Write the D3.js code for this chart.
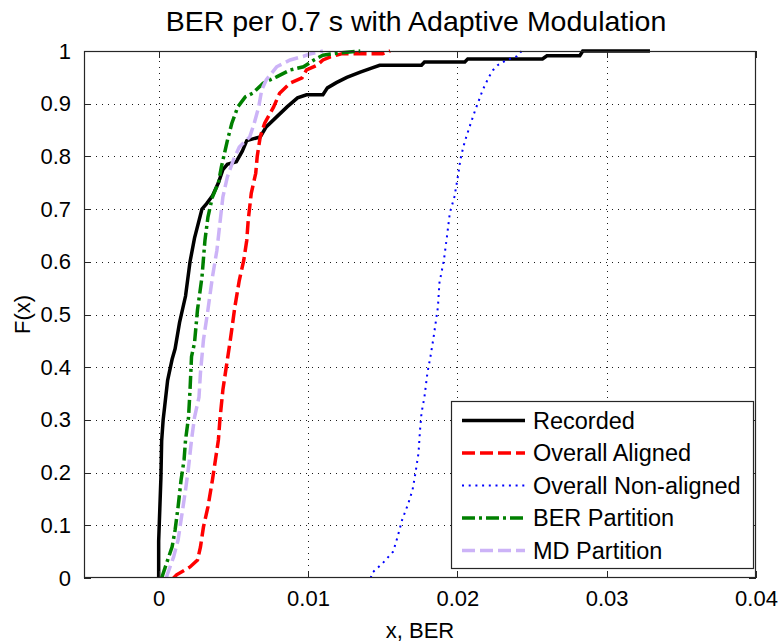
<!DOCTYPE html>
<html>
<head>
<meta charset="utf-8">
<script src="https://cdn.jsdelivr.net/npm/d3@7"></script>
<style>
  body { margin: 0; background: #fff; }
  svg { display: block; }
  text { font-family: "Liberation Sans", Arial, Helvetica, sans-serif; fill: #000; }
</style>
</head>
<body>
<svg id="chart" width="782" height="644"></svg>
<script>
// Empirical CDFs of BER per 0.7 s block, as [BER, F(x)] knots
const recorded = [
  [0, 0], [0.0000, 0.07], [0.00015, 0.19], [0.0002, 0.26], [0.0003, 0.30], [0.0004, 0.325],
  [0.0006, 0.375], [0.0009, 0.415], [0.0011, 0.435], [0.0014, 0.485], [0.0018, 0.535],
  [0.0021, 0.60], [0.0024, 0.645], [0.0029, 0.70], [0.0032, 0.71], [0.0036, 0.725],
  [0.0040, 0.75], [0.0043, 0.775], [0.0046, 0.785], [0.0052, 0.79], [0.0056, 0.81],
  [0.0059, 0.83], [0.0068, 0.837], [0.0072, 0.856], [0.0079, 0.875], [0.0086, 0.894],
  [0.0093, 0.911], [0.0099, 0.917], [0.0110, 0.917], [0.0113, 0.93], [0.0119, 0.94],
  [0.0126, 0.95], [0.0135, 0.96], [0.0143, 0.968], [0.0148, 0.973], [0.0176, 0.973],
  [0.0178, 0.979], [0.0205, 0.979], [0.0207, 0.985], [0.0257, 0.985], [0.0260, 0.991],
  [0.0282, 0.991], [0.0284, 1], [0.0329, 1]
];
const overallAligned = [
  [0.0010, 0], [0.0012, 0.006], [0.0021, 0.021], [0.0026, 0.034], [0.0028, 0.059],
  [0.0030, 0.097], [0.0033, 0.135], [0.0036, 0.186], [0.0038, 0.224], [0.0040, 0.262],
  [0.0041, 0.30], [0.0043, 0.357], [0.0045, 0.395], [0.0047, 0.433], [0.0048, 0.452],
  [0.0051, 0.514], [0.0054, 0.565], [0.0057, 0.603], [0.0059, 0.641], [0.0060, 0.68],
  [0.0062, 0.73], [0.0065, 0.768], [0.0066, 0.80], [0.0068, 0.837], [0.0071, 0.863],
  [0.0077, 0.894], [0.0081, 0.92], [0.0088, 0.939], [0.0096, 0.949], [0.0099, 0.964],
  [0.0106, 0.973], [0.0110, 0.983], [0.0115, 0.989], [0.0123, 0.995], [0.0150, 0.995],
  [0.0155, 1]
];
const overallNonAligned = [
  [0.0142, 0], [0.0143, 0.01], [0.0150, 0.028], [0.0157, 0.05], [0.0160, 0.078],
  [0.0163, 0.11], [0.0167, 0.14], [0.0170, 0.167], [0.0172, 0.20], [0.0174, 0.237],
  [0.0175, 0.28], [0.0176, 0.313], [0.0178, 0.344], [0.0180, 0.39], [0.0182, 0.42],
  [0.0184, 0.455], [0.0187, 0.514], [0.0188, 0.56], [0.0191, 0.603], [0.0193, 0.647],
  [0.0195, 0.693], [0.0198, 0.723], [0.0200, 0.755], [0.0202, 0.793], [0.0204, 0.818],
  [0.0206, 0.837], [0.0209, 0.863], [0.0212, 0.888], [0.0214, 0.903], [0.0217, 0.926],
  [0.0221, 0.95], [0.0224, 0.964], [0.0227, 0.973], [0.0233, 0.983], [0.0240, 0.99],
  [0.0243, 1]
];
const berPartition = [
  [0.0002, 0], [0.0006, 0.034], [0.0009, 0.059], [0.0011, 0.091], [0.0013, 0.135],
  [0.0015, 0.186], [0.0017, 0.224], [0.0018, 0.262], [0.0020, 0.305], [0.0021, 0.357],
  [0.0022, 0.42], [0.0024, 0.446], [0.0026, 0.509], [0.0029, 0.571], [0.0031, 0.641],
  [0.0033, 0.685], [0.0036, 0.723], [0.0040, 0.75], [0.0042, 0.78], [0.0046, 0.83],
  [0.0049, 0.863], [0.0053, 0.894], [0.0058, 0.913], [0.0063, 0.92], [0.0070, 0.939],
  [0.0079, 0.951], [0.0088, 0.964], [0.0097, 0.97], [0.0104, 0.983], [0.0110, 0.992],
  [0.0120, 0.996], [0.0135, 1]
];
const mdPartition = [
  [0.0005, 0], [0.0010, 0.04], [0.0013, 0.072], [0.0015, 0.11], [0.0018, 0.167],
  [0.0020, 0.21], [0.0022, 0.262], [0.0024, 0.305], [0.0027, 0.343], [0.0028, 0.39],
  [0.0030, 0.452], [0.0033, 0.509], [0.0036, 0.571], [0.0039, 0.622], [0.0041, 0.673],
  [0.0043, 0.723], [0.0046, 0.761], [0.0050, 0.793], [0.0054, 0.818], [0.0061, 0.837],
  [0.0064, 0.863], [0.0067, 0.894], [0.0069, 0.926], [0.0072, 0.945], [0.0079, 0.97],
  [0.0088, 0.983], [0.0097, 0.99], [0.0101, 0.994], [0.0110, 1]
];

const seriesNames = ["Recorded", "Overall Aligned", "Overall Non-aligned", "BER Partition", "MD Partition"];
const seriesData = [recorded, overallAligned, overallNonAligned, berPartition, mdPartition];

const xTicks = [0, 0.01, 0.02, 0.03, 0.04];
const xTickLabels = ["0", "0.01", "0.02", "0.03", "0.04"];
const yTicks = [0, 0.1, 0.2, 0.3, 0.4, 0.5, 0.6, 0.7, 0.8, 0.9, 1];
const yTickLabels = ["0", "0.1", "0.2", "0.3", "0.4", "0.5", "0.6", "0.7", "0.8", "0.9", "1"];

// Line styles per series
const styles = [
  { color: "#000000", width: 3.5, dash: null },
  { color: "#ff0000", width: 3.5, dash: "13,5" },
  { color: "#0000ff", width: 2,   dash: "2,4.7" },
  { color: "#008000", width: 3.5, dash: "13,4,3,4" },
  { color: "#ccb3f7", width: 3.5, dash: "13,5" }
];

const svg = d3.select("#chart");
const plot = { left: 84, right: 756, top: 51, bottom: 578 };

const x = d3.scaleLinear().domain([-0.005, 0.04]).range([plot.left, plot.right]);
const y = d3.scaleLinear().domain([0, 1]).range([plot.bottom, plot.top]);

svg.append("rect").attr("width", 782).attr("height", 644).attr("fill", "#fff");

// Dotted grid
const gridStyle = g => g.call(s => s.select(".domain").remove())
  .selectAll("line")
  .attr("stroke", "#1a1a1a").attr("stroke-width", 1)
  .attr("stroke-dasharray", "1.3,4.7").attr("shape-rendering", "crispEdges");

svg.append("g")
  .attr("transform", `translate(0,${plot.bottom})`)
  .call(d3.axisBottom(x).tickValues(xTicks.filter(v => v < 0.04))
    .tickSize(-(plot.bottom - plot.top)).tickFormat(""))
  .call(gridStyle);

svg.append("g")
  .attr("transform", `translate(${plot.left},0)`)
  .call(d3.axisLeft(y).tickValues(yTicks.filter(v => v > 0 && v < 1))
    .tickSize(-(plot.right - plot.left)).tickFormat(""))
  .call(gridStyle);

// Curves
const clipId = "plot-clip";
svg.append("clipPath").attr("id", clipId).append("rect")
  .attr("x", plot.left).attr("y", plot.top - 3)
  .attr("width", plot.right - plot.left).attr("height", plot.bottom - plot.top + 3);

const curves = svg.append("g").attr("clip-path", `url(#${clipId})`);
seriesData.forEach((data, i) => {
  const st = styles[i];
  const line = d3.line().x(d => x(d[0])).y(d => y(d[1]));
  curves.append("path")
    .attr("d", line(data))
    .attr("fill", "none")
    .attr("stroke", st.color)
    .attr("stroke-width", st.width)
    .attr("stroke-dasharray", st.dash)
    .attr("stroke-linejoin", "miter");
});

// Axes: ticks pointing inward on all four sides
const axisColor = "#262626";
const tickLen = 7;
const axisStyle = g => {
  g.select(".domain").remove();
  g.selectAll(".tick line").attr("stroke", axisColor).attr("shape-rendering", "crispEdges");
  g.selectAll(".tick text").style("font-size", "22px").attr("fill", "#000");
};

svg.append("g")
  .attr("transform", `translate(0,${plot.bottom})`)
  .call(d3.axisBottom(x).tickValues(xTicks).tickSizeInner(-tickLen).tickSizeOuter(0)
    .tickPadding(12).tickFormat((d, i) => xTickLabels[i]))
  .call(axisStyle);

svg.append("g")
  .attr("transform", `translate(0,${plot.top})`)
  .call(d3.axisTop(x).tickValues(xTicks).tickSizeInner(-tickLen).tickSizeOuter(0).tickFormat(""))
  .call(axisStyle);

svg.append("g")
  .attr("transform", `translate(${plot.left},0)`)
  .call(d3.axisLeft(y).tickValues(yTicks).tickSizeInner(-tickLen).tickSizeOuter(0)
    .tickPadding(13).tickFormat((d, i) => yTickLabels[i]))
  .call(axisStyle);

svg.append("g")
  .attr("transform", `translate(${plot.right},0)`)
  .call(d3.axisRight(y).tickValues(yTicks).tickSizeInner(-tickLen).tickSizeOuter(0).tickFormat(""))
  .call(axisStyle);

svg.append("rect")
  .attr("x", plot.left + 0.5).attr("y", plot.top + 0.5)
  .attr("width", plot.right - plot.left - 1).attr("height", plot.bottom - plot.top - 1)
  .attr("fill", "none").attr("stroke", axisColor).attr("stroke-width", 1.2);

// Titles
svg.append("text")
  .attr("x", 416).attr("y", 31)
  .attr("text-anchor", "middle").style("font-size", "28.5px")
  .text("BER per 0.7 s with Adaptive Modulation");

svg.append("text")
  .attr("x", (plot.left + plot.right) / 2).attr("y", 638)
  .attr("text-anchor", "middle").style("font-size", "22px")
  .text("x, BER");

svg.append("text")
  .attr("transform", `translate(30,${(plot.top + plot.bottom) / 2}) rotate(-90)`)
  .attr("text-anchor", "middle").style("font-size", "22px")
  .text("F(x)");

// Legend
const legend = svg.append("g").attr("transform", "translate(451,401)");
legend.append("rect")
  .attr("x", 0.5).attr("y", 0.5).attr("width", 302).attr("height", 167)
  .attr("fill", "#fff").attr("stroke", axisColor).attr("stroke-width", 1.2);

seriesNames.forEach((name, i) => {
  const st = styles[i];
  const cy = 19.5 + i * 32.5;
  legend.append("line")
    .attr("x1", 11).attr("x2", 74).attr("y1", cy).attr("y2", cy)
    .attr("stroke", st.color).attr("stroke-width", st.width)
    .attr("stroke-dasharray", st.dash);
  legend.append("text")
    .attr("x", 82).attr("y", cy).attr("dy", "0.36em")
    .style("font-size", "23.5px")
    .text(name);
});
</script>
</body>
</html>
